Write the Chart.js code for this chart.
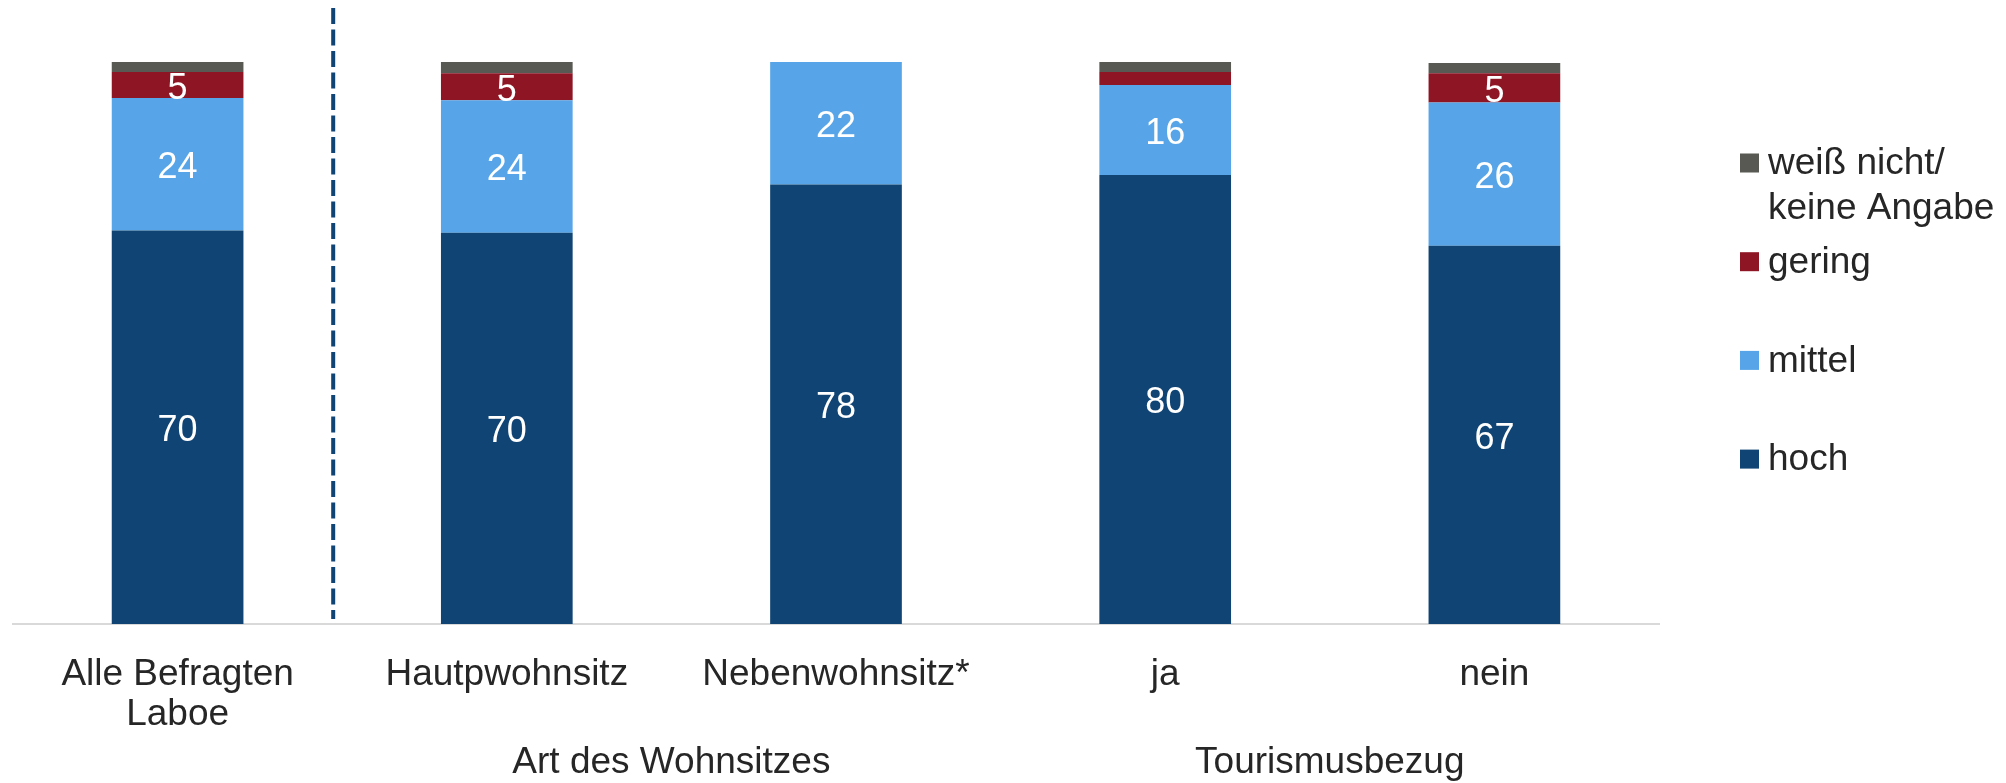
<!DOCTYPE html>
<html>
<head>
<meta charset="utf-8">
<script src="https://cdn.jsdelivr.net/npm/chart.js@4"></script>
<style>
    body { margin: 0; background: #fff; }
    #wrap { width: 2006px; height: 783px; position: relative; }
</style>
</head>
<body>
<div id="wrap"><canvas id="chart"></canvas></div>
<script>
// categories and groups
const categories = [['Alle Befragten', 'Laboe'], 'Hautpwohnsitz', 'Nebenwohnsitz*', 'ja', 'nein'];
const groups = [
    { label: 'Art des Wohnsitzes', from: 1, to: 2 },
    { label: 'Tourismusbezug', from: 3, to: 4 }
];

// series values (percent)
const hoch = [70.0, 69.6, 78.2, 79.9, 67.3];
const mittel = [23.6, 23.6, 21.8, 16.0, 25.5];
const gering = [4.6, 4.8, 0, 2.3, 5.2];
const weissNicht = [1.8, 2.0, 0, 1.8, 1.8];

const seriesNames = ['hoch', 'mittel', 'gering', ['weiß nicht/', 'keine Angabe']];
const seriesColors = ['#0f4474', '#57a5e8', '#8e1524', '#585953'];

const textColor = '#262626';
const fontFamily = '"Liberation Sans", Arial, sans-serif';

// white value labels inside the segments
const valueLabels = {
    id: 'valueLabels',
    afterDatasetsDraw(chart) {
        const ctx = chart.ctx;
        ctx.save();
        ctx.fillStyle = '#ffffff';
        ctx.font = '36px ' + fontFamily;
        ctx.textAlign = 'center';
        ctx.textBaseline = 'middle';
        chart.data.datasets.forEach(function(ds, i) {
            const meta = chart.getDatasetMeta(i);
            meta.data.forEach(function(bar, j) {
                const v = ds.data[j];
                if (v < 4.5) return;
                ctx.fillText(Math.round(v), bar.x, (bar.y + bar.base) / 2 + 4);
            });
        });
        ctx.restore();
    }
};

// dashed separator, group titles and legend
const extras = {
    id: 'extras',
    afterDraw(chart) {
        const ctx = chart.ctx;
        const x = chart.scales.x;
        const area = chart.chartArea;
        ctx.save();

        // dashed separator
        const sepX = (x.getPixelForValue(0) + x.getPixelForValue(1)) / 2 - 9;
        ctx.strokeStyle = '#0f4474';
        ctx.lineWidth = 4;
        ctx.setLineDash([16, 5.5]);
        ctx.beginPath();
        ctx.moveTo(sepX, 8);
        ctx.lineTo(sepX, area.bottom - 5);
        ctx.stroke();
        ctx.setLineDash([]);

        // group titles
        ctx.fillStyle = textColor;
        ctx.font = '37px ' + fontFamily;
        ctx.textAlign = 'center';
        ctx.textBaseline = 'middle';
        groups.forEach(function(g) {
            const gx = (x.getPixelForValue(g.from) + x.getPixelForValue(g.to)) / 2;
            ctx.fillText(g.label, gx, 763);
        });

        // legend (reverse order, top to bottom)
        const lx = area.right + 81;
        let ly = 163;
        ctx.textAlign = 'left';
        for (let i = seriesNames.length - 1; i >= 0; i--) {
            ctx.fillStyle = seriesColors[i];
            ctx.fillRect(lx, ly - 9.5, 19, 19);
            ctx.fillStyle = textColor;
            const lines = [].concat(seriesNames[i]);
            lines.forEach(function(t, k) {
                ctx.fillText(t, lx + 28, ly + k * 45 + 1);
            });
            ly += 98.7;
        }
        ctx.restore();
    }
};

const datasets = [hoch, mittel, gering, weissNicht].map(function(d, i) {
    return {
        label: [].concat(seriesNames[i]).join(' '),
        data: d,
        backgroundColor: seriesColors[i],
        borderWidth: 0,
        barPercentage: 0.4,
        categoryPercentage: 1.0
    };
});

const ctx = document.getElementById('chart').getContext('2d');
const chart = new Chart(ctx, {
    type: 'bar',
    data: { labels: categories, datasets: datasets },
    options: {
        responsive: true,
        maintainAspectRatio: false,
        animation: false,
        layout: { padding: { left: 13, right: 347, top: 62, bottom: 0 } },
        plugins: {
            legend: { display: false },
            tooltip: { enabled: false }
        },
        scales: {
            x: {
                stacked: true,
                grid: { display: false, drawTicks: false },
                border: { display: true, color: '#d9d9d9', width: 2 },
                ticks: {
                    color: textColor,
                    font: { family: fontFamily, size: 37, lineHeight: 1.1 },
                    padding: 30,
                    maxRotation: 0,
                    autoSkip: false
                },
                afterFit: function(scale) { scale.height = 159; }
            },
            y: {
                stacked: true,
                display: false,
                min: 0,
                max: 100
            }
        }
    },
    plugins: [valueLabels, extras]
});
</script>
</body>
</html>
